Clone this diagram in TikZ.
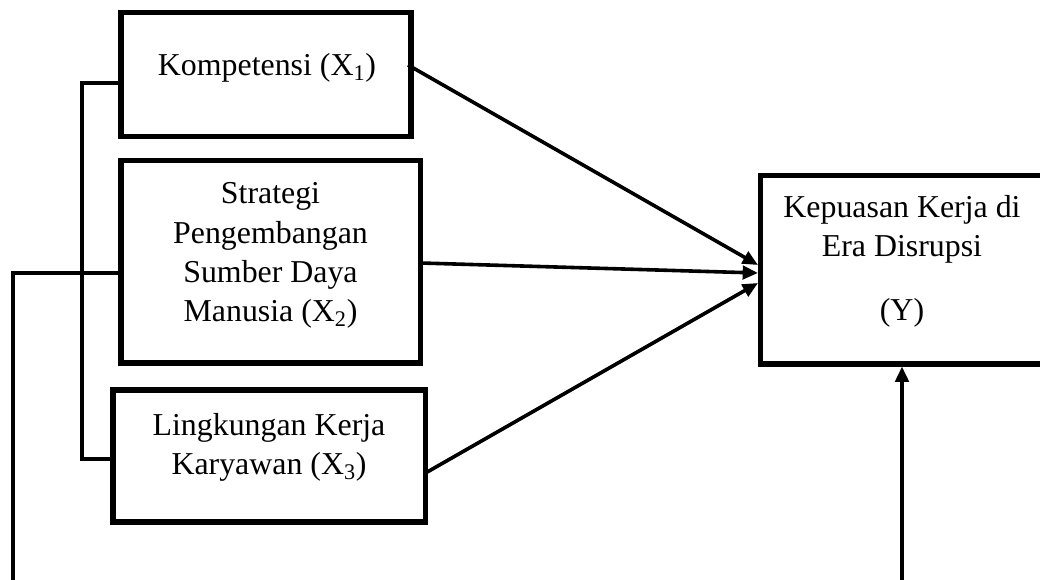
\documentclass[tikz,border=0pt]{standalone}
\usepackage{fontspec}
\setmainfont{Liberation Serif}
\usetikzlibrary{arrows.meta,fit}
\begin{document}
\begin{tikzpicture}[x=0.75pt,y=-0.75pt,
  box/.style={draw, line width=4.2pt, inner sep=0pt},
  lbl/.style={align=center, font=\fontsize{23.9}{29.5}\selectfont, inner sep=0pt, anchor=base},
  conn/.style={line width=2.7pt},
  arr/.style={conn, -{Triangle[length=11.5pt,width=10pt]}}]
\useasboundingbox (0,0) rectangle (1040,580);
% boxes
\node[box, fit={(121,12.5) (411,136.5)}] (X1) {};
\node[box, fit={(121,160.5) (420.5,363)}] (X2) {};
\node[box, fit={(113,390) (425.5,522)}] (X3) {};
\node[box, fit={(760.5,175.5) (1046,364)}] (Y) {};
% labels (base anchor = baseline of last line)
\node[lbl] (t1) at (267,76) {Kompetensi (X\textsubscript{1})};
\node[lbl] (t2) at (270.5,322) {Strategi\\Pengembangan\\Sumber Daya\\Manusia (X\textsubscript{2})};
\node[lbl] (t3) at (269,475) {Lingkungan Kerja\\Karyawan (X\textsubscript{3})};
\node[lbl] (ty) at (902,321) {Kepuasan Kerja di\\Era Disrupsi\\[18.5pt](Y)};
% bracket linking X1 and X3
\coordinate (b1) at (82,83);
\coordinate (b2) at (82,459);
\draw[conn] (X1.west |- b1) -- (b1) -- (b2) -- (X3.west |- b2);
% line from X2 to the left and down
\coordinate (l1) at (13,273);
\coordinate (l2) at (13,585);
\draw[conn] (X2.west |- l1) -- (l1) -- (l2);
% arrows to Y
\coordinate (s1) at (408,65);
\coordinate (s2) at (420.5,263);
\coordinate (s3) at (425.5,473);
\coordinate (e1) at (758,265);
\coordinate (e2) at (758,273);
\coordinate (e3) at (758,283);
\draw[arr] (s1) -- (e1);
\draw[arr] (s2) -- (e2);
\draw[arr] (s3) -- (e3);
% arrow from below
\coordinate (bY) at (902,585);
\coordinate (eY) at (902,366.5);
\draw[arr] (bY) -- (eY);
\end{tikzpicture}
\end{document}
